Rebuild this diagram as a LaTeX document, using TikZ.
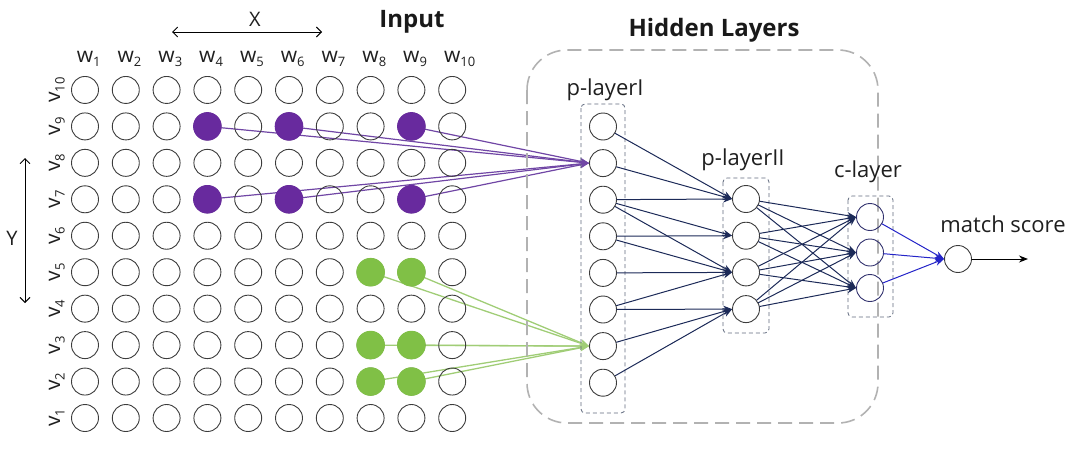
\documentclass[tikz,border=0pt]{standalone}
\usepackage{fontspec}
\setmainfont{Open Sans}
\usepackage[usenames]{xcolor}
\usepackage{tikz}
\usetikzlibrary{arrows.meta,backgrounds}

\definecolor{gridc}{RGB}{60,60,60}
\definecolor{purp}{RGB}{104,42,158}
\definecolor{purpl}{RGB}{112,70,165}
\definecolor{grn}{RGB}{128,192,70}
\definecolor{grnl}{RGB}{160,205,118}
\definecolor{netc}{RGB}{28,42,88}
\definecolor{outc}{RGB}{36,36,200}
\definecolor{cdraw}{RGB}{50,50,110}
\definecolor{boxc}{RGB}{95,105,125}
\definecolor{hidc}{RGB}{178,178,178}
\newcommand{\idx}[1]{\raisebox{-4.5pt}{\fontsize{13}{13}\selectfont #1}}

\begin{document}
\begin{tikzpicture}[line cap=round,line join=round,x=1pt,y=-1pt,
  >={Stealth[length=9pt,width=7pt]},
  cell/.style={circle,draw=gridc,line width=0.9pt,minimum size=27pt,inner sep=0pt},
  lbl/.style={font=\fontsize{21}{21}\selectfont,text=black!88,inner sep=0pt,anchor=base},
  txt/.style={font=\fontsize{22}{22}\selectfont,text=black!88,inner sep=0pt,anchor=base},
  ttl/.style={font=\fontsize{24}{24}\selectfont\bfseries,text=black!90,inner sep=0pt,anchor=base},
  net/.style={draw=netc,line width=1pt},
  lay/.style={draw=boxc,line width=0.8pt,line cap=butt,dash pattern=on 4pt off 3pt,rounded corners=4pt},
  hid/.style={draw=hidc,line width=1.6pt,line cap=butt,dash pattern=on 14pt off 7pt,rounded corners=40pt}]
\useasboundingbox (0,0) rectangle (1080,450);
% input grid
\foreach \i in {1,...,10}{
  \node[lbl] (w\i) at ({85+40.8*(\i-1)},62) {w\rlap{\idx{\i}}};
  \node[lbl,rotate=90] (v\i) at (60,{418-36.45*(\i-1)}) {v\idx{\i}};
  \foreach \j in {1,...,10}
    \node[cell] (g\i-\j) at ({85+40.8*(\i-1)},{418-36.45*(\j-1)}) {};
}
\node[ttl] (input) at (412,27) {Input};
\node[ttl] (hidden) at (714,36) {Hidden Layers};
\node[txt,font=\fontsize{20}{20}\selectfont] (xl) at (255,26) {X};
\node[txt,font=\fontsize{20}{20}\selectfont] (yl) at (12,245) {Y};
\coordinate (xa) at (172,32);
\coordinate (xb) at (322,32);
\coordinate (ya) at (25,158);
\coordinate (yb) at (25,303);
\draw[line width=0.9pt,{Straight Barb[length=5pt,width=10pt]}-{Straight Barb[length=5pt,width=10pt]}] (xa) -- (xb);
\draw[line width=0.9pt,{Straight Barb[length=5pt,width=10pt]}-{Straight Barb[length=5pt,width=10pt]}] (ya) -- (yb);
% hidden layers
\draw[hid] (527,50) rectangle (878,423);
\draw[lay] (581,104) rectangle (625,413);
\draw[lay] (723,178) rectangle (769,333);
\draw[lay] (848,196) rectangle (893,317);
\foreach \i in {1,...,8}
  \node[cell] (p\i) at (603,{126.5+36.6*(\i-1)}) {};
\foreach \i in {1,...,4}
  \node[cell] (q\i) at (746,{199+36.7*(\i-1)}) {};
\foreach \i in {1,2,3}
  \node[cell,draw=cdraw] (c\i) at (870,{217+35.5*(\i-1)}) {};
\node[cell] (out) at (958,259) {};
\coordinate (score) at (1028,259);
\node[txt] (pl1) at (605,95) {p-layerI};
\node[txt] (pl2) at (743,165) {p-layerII};
\node[txt] (cl) at (868,177) {c-layer};
\node[txt] (ms) at (1003,232) {match score};
% input to p-layerI
\begin{scope}[on background layer]
\foreach \c/\r in {4/9,6/9,9/9,4/7,6/7,9/7}
  \draw[purpl,line width=1.2pt,->] (g\c-\r) -- (p2.west);
\foreach \c/\r in {8/5,9/5,8/3,9/3,8/2,9/2}
  \draw[grnl,line width=1.3pt,->] (g\c-\r) -- (p7.west);
\end{scope}
\foreach \c/\r in {4/9,6/9,9/9,4/7,6/7,9/7}
  \fill[purp] (g\c-\r) circle (14.3);
\foreach \c/\r in {8/5,9/5,8/3,9/3,8/2,9/2}
  \fill[grn] (g\c-\r) circle (14.3);
% connections
\foreach \a/\b in {1/1,2/1,3/1,3/2,3/3,4/2,4/3,5/3,6/3,6/4,7/4,8/4}
  \draw[net,->] (p\a) -- (q\b.west);
\foreach \a in {1,...,4}
  \foreach \b in {1,2,3}
    \draw[net,->] (q\a) -- (c\b.west);
\foreach \b in {1,2,3}
  \draw[draw=outc,line width=1pt,->] (c\b) -- (out.west);
\draw[line width=1pt,->] (out) -- (score);
\end{tikzpicture}
\end{document}
